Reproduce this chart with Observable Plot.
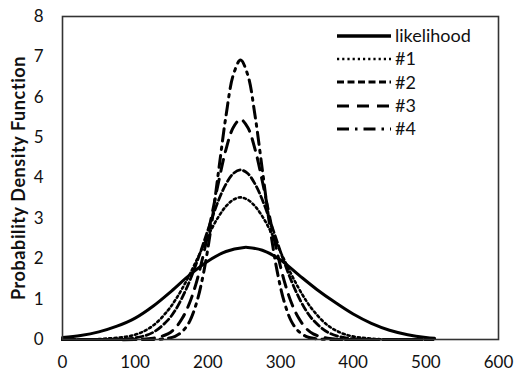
<!DOCTYPE html>
<html><head><meta charset="utf-8">
<script src="https://cdn.jsdelivr.net/npm/d3@7"></script>
<script src="https://cdn.jsdelivr.net/npm/@observablehq/plot@0.6"></script>
<style>
body{margin:0;background:#fff;}
#wrap{position:relative;width:514px;height:378px;font-family:Lato,"Open Sans",sans-serif;}
#legend{position:absolute;left:337px;top:24px;}
.row{display:flex;align-items:center;height:23.3px;font-size:18px;color:#111;line-height:23px;}
.row svg{margin-right:4px;display:block}
</style></head><body><div id="wrap"><div id="legend"></div></div>
<script>
// x positions shared by the four posterior curves
const postX = [0, 50, 100, 125, 145, 155, 165, 175, 185, 195, 205, 215, 225, 235, 245, 255, 265, 275, 285, 295, 305, 315, 325, 335, 345, 365, 390, 425, 470, 510];
const likelihoodX = [0, 25, 50, 75, 100, 125, 150, 175, 200, 225, 250, 255, 275, 300, 325, 350, 375, 400, 425, 450, 475, 500, 512];
const likelihoodY = [0.05, 0.1, 0.19, 0.33, 0.53, 0.83, 1.2, 1.6, 1.94, 2.18, 2.28, 2.28, 2.21, 1.97, 1.6, 1.24, 0.92, 0.63, 0.4, 0.23, 0.12, 0.05, 0.03];
const post1 = [0, 0.01, 0.12, 0.35, 0.72, 0.97, 1.27, 1.61, 1.98, 2.36, 2.73, 3.05, 3.30, 3.46, 3.52, 3.46, 3.30, 3.05, 2.73, 2.36, 1.98, 1.61, 1.27, 0.97, 0.72, 0.35, 0.12, 0.02, 0, 0];
const post2 = [0, 0, 0.04, 0.18, 0.48, 0.72, 1.05, 1.45, 1.92, 2.44, 2.97, 3.46, 3.85, 4.11, 4.2, 4.11, 3.85, 3.46, 2.97, 2.44, 1.92, 1.45, 1.05, 0.72, 0.48, 0.18, 0.04, 0, 0, 0];
const post3 = [0, 0, 0, 0.03, 0.14, 0.28, 0.53, 0.91, 1.46, 2.19, 3.04, 3.92, 4.71, 5.25, 5.45, 5.25, 4.71, 3.92, 3.04, 2.19, 1.46, 0.91, 0.53, 0.28, 0.14, 0.03, 0, 0, 0, 0];
const post4 = [0, 0, 0, 0, 0.03, 0.08, 0.2, 0.45, 0.94, 1.73, 2.84, 4.2, 5.54, 6.55, 6.92, 6.55, 5.54, 4.2, 2.84, 1.73, 0.94, 0.45, 0.2, 0.08, 0.03, 0, 0, 0, 0, 0];
const seriesNames = ["likelihood", "#1", "#2", "#3", "#4"];
const xTicks = [0, 100, 200, 300, 400, 500, 600];
const yTicks = [0, 1, 2, 3, 4, 5, 6, 7, 8];
const yLabel = "Probability Density Function";

const styles = {
  "likelihood": {w: 3, dash: null, lw: 3.5},
  "#1": {w: 2.6, dash: "2.2,3", lw: 2.6},
  "#2": {w: 2.8, dash: "7,3.5", lw: 3},
  "#3": {w: 3, dash: "12,8", lw: 3.2},
  "#4": {w: 3, dash: "12,6,2.5,6", lw: 3.2}
};

const rows = [];
likelihoodX.forEach((x, i) => rows.push({s: "likelihood", x, y: likelihoodY[i]}));
[post1, post2, post3, post4].forEach((arr, k) => postX.forEach((x, i) => rows.push({s: seriesNames[k + 1], x, y: arr[i]})));

const plot = Plot.plot({
  width: 514, height: 378,
  marginLeft: 62, marginRight: 16, marginTop: 16, marginBottom: 39,
  style: {fontFamily: "Lato, 'Open Sans', sans-serif", fontSize: "17px", color: "#111", background: "white"},
  x: {domain: [0, 600], ticks: xTicks, tickSize: 0, tickPadding: 16, label: null},
  y: {domain: [0, 8], ticks: yTicks, tickSize: 0, tickPadding: 19, label: null},
  marks: [
    ...seriesNames.map(n => Plot.line(rows.filter(d => d.s === n), {
      x: "x", y: "y", curve: "catmull-rom", stroke: "#000",
      strokeWidth: styles[n].w, strokeDasharray: styles[n].dash
    })),
    Plot.frame({stroke: "#333", strokeWidth: 1.6}),
    Plot.text([yLabel], {frameAnchor: "left", textAnchor: "middle", rotate: -90, dx: -43, fontWeight: "bold", fontSize: 18, fill: "#111"})
  ]
});
plot.querySelectorAll("text").forEach(t => { if (t.textContent === yLabel) t.style.letterSpacing = "0.6px"; });
document.getElementById("wrap").prepend(plot);

const legend = document.getElementById("legend");
seriesNames.forEach(n => {
  const row = document.createElement("div");
  row.className = "row";
  const ns = "http://www.w3.org/2000/svg";
  const svg = document.createElementNS(ns, "svg");
  svg.setAttribute("width", 54); svg.setAttribute("height", 6);
  const ln = document.createElementNS(ns, "line");
  ln.setAttribute("x1", 0); ln.setAttribute("x2", 54); ln.setAttribute("y1", 3); ln.setAttribute("y2", 3);
  ln.setAttribute("stroke", "#000"); ln.setAttribute("stroke-width", styles[n].lw);
  if (styles[n].dash) ln.setAttribute("stroke-dasharray", styles[n].dash);
  svg.appendChild(ln);
  const t = document.createElement("span");
  t.textContent = n;
  row.appendChild(svg); row.appendChild(t);
  legend.appendChild(row);
});
</script></body></html>
